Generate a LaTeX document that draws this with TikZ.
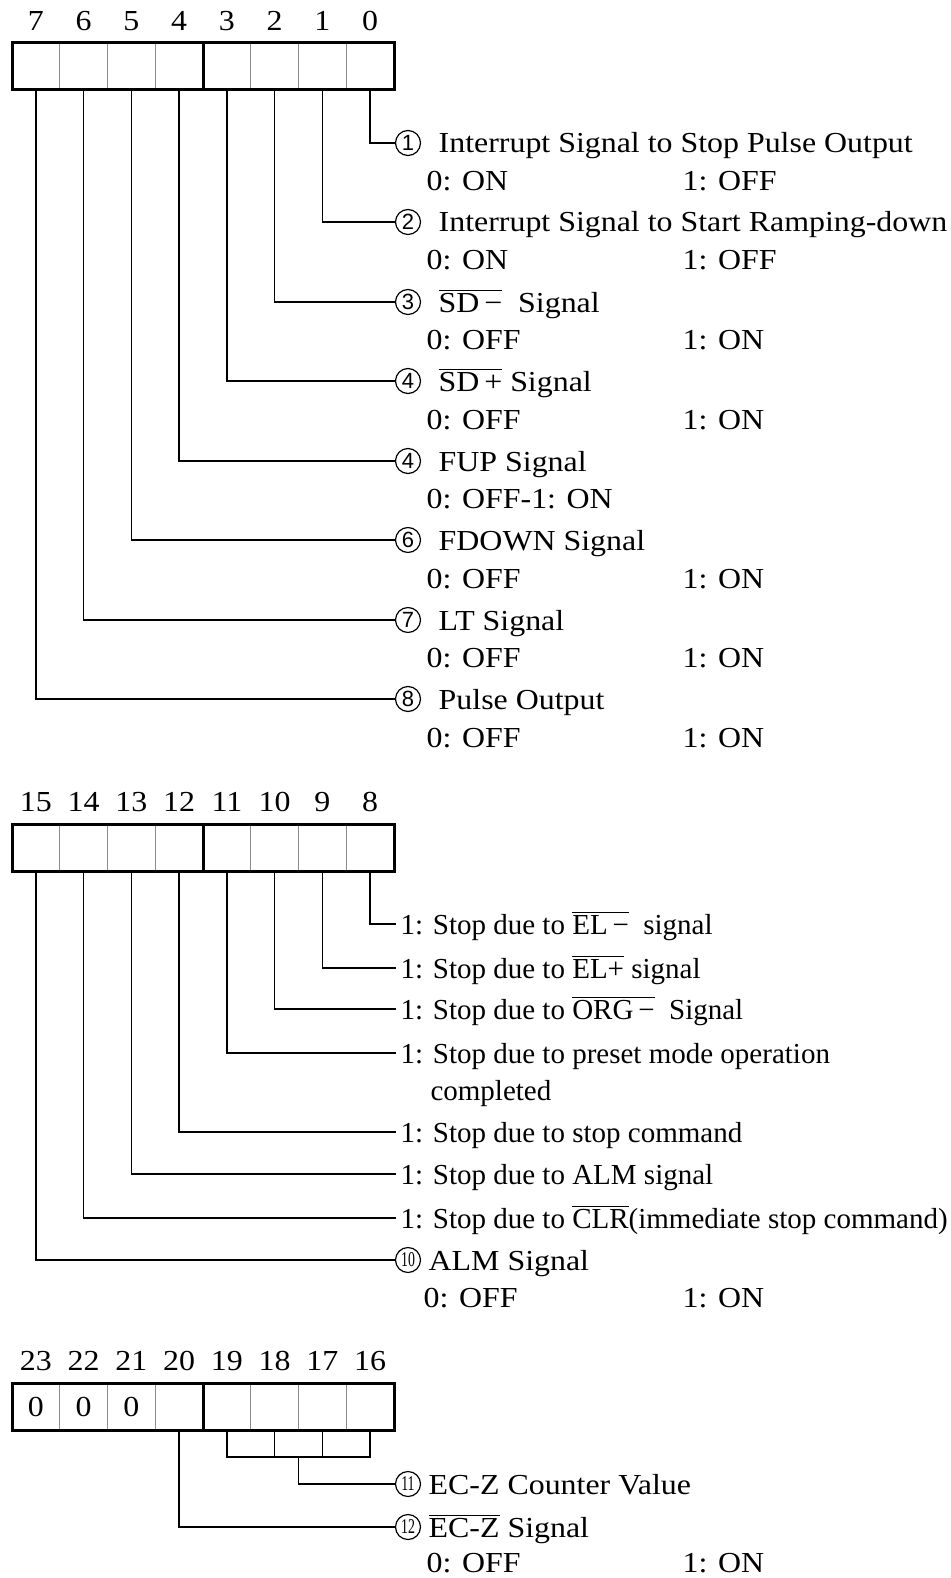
\documentclass[tikz,border=0pt]{standalone}
\usepackage{fontspec}
\setmainfont[FakeStretch=1.1]{Liberation Serif}
\newfontfamily\stopfont{Liberation Serif}
\newfontfamily\numfont{Liberation Sans}
\newfontfamily\numfontnarrow[FakeStretch=0.66]{Liberation Serif}
\usetikzlibrary{positioning}
\definecolor{cellgray}{HTML}{8C8C8C}
\newcommand{\ovl}[1]{$\overline{\mbox{#1}}$}

\begin{document}
\begin{tikzpicture}[x=0.5pt, y=-0.5pt, line width=0.7pt,
  every node/.style={font=\fontsize{14.5pt}{18.5pt}\selectfont},
  cell/.style={draw=cellgray, line width=0.5pt, minimum width=23.875pt, minimum height=23.5pt, inner sep=0pt, outer sep=0pt},
  bitno/.style={inner sep=0pt},
  frame/.style={line width=1.5pt},
  circnum/.style={draw, circle, line width=0.6pt, minimum size=12.5pt, inner sep=0pt, font=\numfont\fontsize{11pt}{11pt}\selectfont},
  circnumtwo/.style={circnum, font=\numfontnarrow\fontsize{10.5pt}{10.5pt}\selectfont},
  desc/.style={anchor=west, inner sep=0pt, text height=10pt, text depth=0pt},
  stopdesc/.style={anchor=west, inner xsep=2pt, inner ysep=0pt, text height=10pt, text depth=0pt,
    font=\stopfont\fontsize{14.5pt}{18.5pt}\selectfont},
  val/.style={anchor=west, inner sep=0pt, text height=10pt, text depth=0pt}]

\useasboundingbox (0,0) rectangle (951,1578);

% ---------------- Bits 0-7 ----------------
\node[cell] (b7) at (35.875,66.5) {};
\node[cell] (b6) at (83.625,66.5) {};
\node[cell] (b5) at (131.375,66.5) {};
\node[cell] (b4) at (179.125,66.5) {};
\node[cell] (b3) at (226.875,66.5) {};
\node[cell] (b2) at (274.625,66.5) {};
\node[cell] (b1) at (322.375,66.5) {};
\node[cell] (b0) at (370.125,66.5) {};
\draw[frame] (b7.north west) rectangle (b0.south east);
\draw[frame] (b4.north east) -- (b4.south east);

\node[bitno, above=6pt of b7] (n7) {7};
\node[bitno, above=6pt of b6] (n6) {6};
\node[bitno, above=6pt of b5] (n5) {5};
\node[bitno, above=6pt of b4] (n4) {4};
\node[bitno, above=6pt of b3] (n3) {3};
\node[bitno, above=6pt of b2] (n2) {2};
\node[bitno, above=6pt of b1] (n1) {1};
\node[bitno, above=6pt of b0] (n0) {0};

% bit 0
\node[circnum] (c1) at (408,143) {1};
\node[desc] (t1) at (438,143) {Interrupt Signal to Stop Pulse Output};
\node[val] (v1a) at (426,181) {0: ON};
\node[val] (v1b) at (682,181) {1: OFF};
\draw (b0.south) |- (c1.west);

% bit 1
\node[circnum] (c2) at (408,222) {2};
\node[desc] (t2) at (438,222) {Interrupt Signal to Start Ramping-down};
\node[val] (v2a) at (426,260) {0: ON};
\node[val] (v2b) at (682,260) {1: OFF};
\draw (b1.south) |- (c2.west);

% bit 2
\node[circnum] (c3) at (408,302) {3};
\node[desc] (t3) at (438,302) {\ovl{SD\,−}\ \ Signal};
\node[val] (v3a) at (426,339) {0: OFF};
\node[val] (v3b) at (682,339) {1: ON};
\draw (b2.south) |- (c3.west);

% bit 3
\node[circnum] (c4) at (408,381) {4};
\node[desc] (t4) at (438,381) {\ovl{SD\,+} Signal};
\node[val] (v4a) at (426,419) {0: OFF};
\node[val] (v4b) at (682,419) {1: ON};
\draw (b3.south) |- (c4.west);

% bit 4
\node[circnum] (c5) at (408,461) {4};
\node[desc] (t5) at (438,461) {FUP Signal};
\node[val] (v5a) at (426,498) {0: OFF-1: ON};
\draw (b4.south) |- (c5.west);

% bit 5
\node[circnum] (c6) at (408,540) {6};
\node[desc] (t6) at (438,540) {FDOWN Signal};
\node[val] (v6a) at (426,578) {0: OFF};
\node[val] (v6b) at (682,578) {1: ON};
\draw (b5.south) |- (c6.west);

% bit 6
\node[circnum] (c7) at (408,620) {7};
\node[desc] (t7) at (438,620) {LT Signal};
\node[val] (v7a) at (426,657) {0: OFF};
\node[val] (v7b) at (682,657) {1: ON};
\draw (b6.south) |- (c7.west);

% bit 7
\node[circnum] (c8) at (408,699) {8};
\node[desc] (t8) at (438,699) {Pulse Output};
\node[val] (v8a) at (426,737) {0: OFF};
\node[val] (v8b) at (682,737) {1: ON};
\draw (b7.south) |- (c8.west);

% ---------------- Bits 8-15 ----------------
\node[cell] (b15) at (35.875,848) {};
\node[cell] (b14) at (83.625,848) {};
\node[cell] (b13) at (131.375,848) {};
\node[cell] (b12) at (179.125,848) {};
\node[cell] (b11) at (226.875,848) {};
\node[cell] (b10) at (274.625,848) {};
\node[cell] (b9) at (322.375,848) {};
\node[cell] (b8) at (370.125,848) {};
\draw[frame] (b15.north west) rectangle (b8.south east);
\draw[frame] (b12.north east) -- (b12.south east);

\node[bitno, above=6pt of b15] (n15) {15};
\node[bitno, above=6pt of b14] (n14) {14};
\node[bitno, above=6pt of b13] (n13) {13};
\node[bitno, above=6pt of b12] (n12) {12};
\node[bitno, above=6pt of b11] (n11) {11};
\node[bitno, above=6pt of b10] (n10) {10};
\node[bitno, above=6pt of b9] (n9) {9};
\node[bitno, above=6pt of b8] (n8) {8};

% stop causes
\node[stopdesc] (s8) at (396,924) {1: Stop due to \ovl{EL\,−}\ \ signal};
\node[stopdesc] (s9) at (396,968) {1: Stop due to \ovl{EL+}\ signal};
\node[stopdesc] (s10) at (396,1009) {1: Stop due to \ovl{ORG\,−}\ \ Signal};
\node[stopdesc] (s11) at (396,1053) {1: Stop due to preset mode operation};
\node[stopdesc] (s11b) at (396,1090) {\hphantom{1:}\ completed};
\node[stopdesc] (s12) at (396,1132) {1: Stop due to stop command};
\node[stopdesc] (s13) at (396,1174) {1: Stop due to ALM signal};
\node[stopdesc] (s14) at (396,1218) {1: Stop due to \ovl{CLR}(immediate stop command)};
\draw (b8.south) |- (s8.west);
\draw (b9.south) |- (s9.west);
\draw (b10.south) |- (s10.west);
\draw (b11.south) |- (s11.west);
\draw (b12.south) |- (s12.west);
\draw (b13.south) |- (s13.west);
\draw (b14.south) |- (s14.west);

% bit 15
\node[circnumtwo] (c10) at (408,1260) {10};
\node[desc] (t10) at (428,1260) {ALM Signal};
\node[val] (v10a) at (423,1297) {0: OFF};
\node[val] (v10b) at (682,1297) {1: ON};
\draw (b15.south) |- (c10.west);

% ---------------- Bits 16-23 ----------------
\node[cell] (b23) at (35.875,1407) {0};
\node[cell] (b22) at (83.625,1407) {0};
\node[cell] (b21) at (131.375,1407) {0};
\node[cell] (b20) at (179.125,1407) {};
\node[cell] (b19) at (226.875,1407) {};
\node[cell] (b18) at (274.625,1407) {};
\node[cell] (b17) at (322.375,1407) {};
\node[cell] (b16) at (370.125,1407) {};
\draw[frame] (b23.north west) rectangle (b16.south east);
\draw[frame] (b20.north east) -- (b20.south east);

\node[bitno, above=6pt of b23] (n23) {23};
\node[bitno, above=6pt of b22] (n22) {22};
\node[bitno, above=6pt of b21] (n21) {21};
\node[bitno, above=6pt of b20] (n20) {20};
\node[bitno, above=6pt of b19] (n19) {19};
\node[bitno, above=6pt of b18] (n18) {18};
\node[bitno, above=6pt of b17] (n17) {17};
\node[bitno, above=6pt of b16] (n16) {16};

% counter bracket
\coordinate (brk) at (298.5,1457);
\draw (b19.south) |- (brk) -| (b16.south);
\draw (b18.south) -- (b18.south |- brk);
\draw (b17.south) -- (b17.south |- brk);

\node[circnumtwo] (c11) at (408,1484) {11};
\node[desc] (t11) at (428,1484) {EC-Z Counter Value};
\draw (brk) |- (c11.west);

% bit 20
\node[circnumtwo] (c12) at (408,1527) {12};
\node[desc] (t12) at (428,1527) {\ovl{EC-Z} Signal};
\node[val] (v12a) at (426,1562) {0: OFF};
\node[val] (v12b) at (682,1562) {1: ON};
\draw (b20.south) |- (c12.west);

\end{tikzpicture}
\end{document}
